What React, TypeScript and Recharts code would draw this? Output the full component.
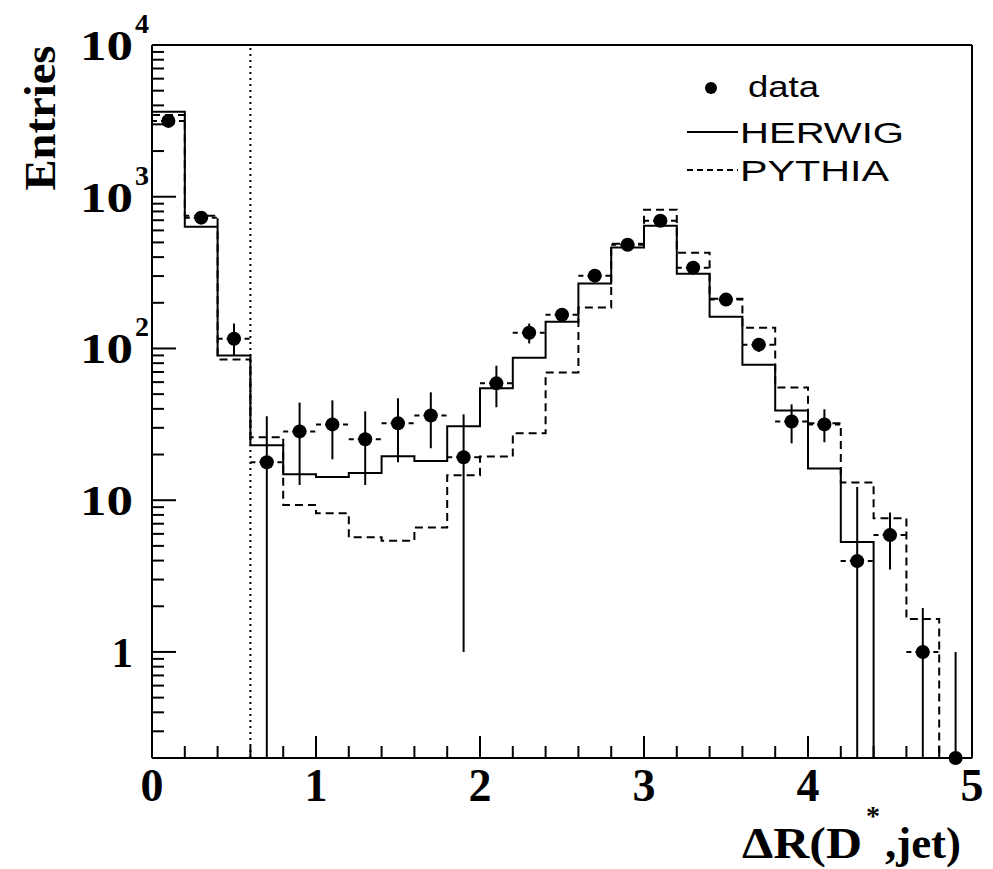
import React from "react";
import {
  ComposedChart,
  Line,
  Scatter,
  ErrorBar,
  XAxis,
  YAxis,
  ReferenceLine,
} from "recharts";

// histogram binning in ΔR(D*,jet)
const binEdges = [
  0, 0.2, 0.4, 0.6, 0.8, 1.0, 1.2, 1.4, 1.6, 1.8, 2.0, 2.2, 2.4, 2.6, 2.8,
  3.0, 3.2, 3.4, 3.6, 3.8, 4.0, 4.2, 4.4, 4.6, 4.8, 5.0,
];
const binCenters = [
  0.1, 0.3, 0.5, 0.7, 0.9, 1.1, 1.3, 1.5, 1.7, 1.9, 2.1, 2.3, 2.5, 2.7, 2.9,
  3.1, 3.3, 3.5, 3.7, 3.9, 4.1, 4.3, 4.5, 4.7, 4.9,
];

// data points with lower / upper ends of the error bars
const dataCounts = [
  3160, 728, 116, 17.8, 28.4, 31.6, 25.2, 32.1, 36.2, 19.2, 58.9, 127, 167,
  302, 483, 695, 341, 210, 106, 33, 31.6, 3.97, 5.89, 1.0, 0,
];
const dataLow = [
  3100, 700, 90, 0, 12.6, 18.6, 12.6, 17.8, 22, 1.0, 41, 108, 150, 285, 460,
  670, 320, 195, 95, 23.7, 24.1, 0, 3.5, 0, 0,
];
const dataHigh = [
  3220, 757, 146, 35.7, 44, 45.5, 38.5, 46.9, 51.4, 36.8, 77, 146, 185, 330,
  505, 720, 362, 225, 117, 42.8, 39.7, 12.2, 8.3, 1.95, 1.0,
];

// Monte Carlo predictions
const herwigCounts = [
  3625, 635, 90, 23, 14.8, 14.2, 15.1, 19.5, 18.1, 30.7, 54.6, 87, 150, 268,
  462, 645, 311, 162, 78, 39, 16.2, 5.3, 0, 0, 0,
];
const pythiaCounts = [
  3460, 750, 84.7, 26, 9.3, 8.2, 5.7, 5.4, 6.6, 14.6, 19.4, 27.6, 69.5, 186,
  490, 821, 428, 213, 137, 55.4, 32.1, 13.1, 7.6, 1.65, 0,
];

const xTicks = binEdges;
const yMajorTicks = [1, 10, 100, 1000, 10000];
const yMajorBase = ["1", "10", "10", "10", "10"];
const yMajorExp = ["", "", "2", "3", "4"];
const yMinorTicks = [0.1, 1, 10, 100, 1000].flatMap((d) =>
  [2, 3, 4, 5, 6, 7, 8, 9].map((m) => m * d)
);
const yTicks = [...yMinorTicks, ...yMajorTicks];

const Y_MIN = 0.2;
const Y_MAX = 10000;
const clampY = (v: number) => Math.max(v, Y_MIN);

const histPoints = (counts: number[]) =>
  binEdges.map((x, i) => ({
    x,
    y: clampY(counts[Math.min(i, counts.length - 1)]),
  }));

const herwigPts = histPoints(herwigCounts);
const pythiaPts = histPoints(pythiaCounts);

const dataPts = binCenters.map((x, i) => {
  const y = clampY(dataCounts[i]);
  return {
    x,
    y,
    ey: [y - clampY(dataLow[i]), dataHigh[i] - y],
    ex: [0.1, 0.1],
  };
});

const SERIF = "'Liberation Serif', 'Times New Roman', serif";
const SANS = "'Liberation Sans', Arial, sans-serif";

const YTick = (props: any) => {
  const { x, y, payload } = props;
  const idx = yMajorTicks.indexOf(payload.value);
  const major = idx >= 0;
  const wide = major && yMajorBase[idx].length > 1;
  return (
    <g>
      <line
        x1={x}
        x2={x + (major ? 24 : 12)}
        y1={y}
        y2={y}
        stroke="#000"
        strokeWidth={2}
      />
      {major && (
        <text
          x={x - 19}
          y={y + 15}
          textAnchor="end"
          fontFamily={SERIF}
          fontWeight="bold"
          fontSize={43}
          fill="#000"
          textLength={wide ? 53 : undefined}
          lengthAdjust="spacingAndGlyphs"
        >
          {yMajorBase[idx]}
        </text>
      )}
      {major && yMajorExp[idx] && (
        <text
          x={x - 17}
          y={y - 12}
          fontFamily={SERIF}
          fontWeight="bold"
          fontSize={28}
          fill="#000"
        >
          {yMajorExp[idx]}
        </text>
      )}
    </g>
  );
};

const XTick = (props: any) => {
  const { x, y, payload } = props;
  const v = payload.value;
  const major = Math.abs(v - Math.round(v)) < 1e-6;
  return (
    <g>
      <line
        x1={x}
        x2={x}
        y1={y}
        y2={y - (major ? 22 : 12)}
        stroke="#000"
        strokeWidth={2}
      />
      {major && (
        <text
          x={x}
          y={y + 43}
          textAnchor="middle"
          fontFamily={SERIF}
          fontWeight="bold"
          fontSize={46}
          fill="#000"
        >
          {Math.round(v)}
        </text>
      )}
    </g>
  );
};

const DataDot = (props: any) => {
  const { cx, cy } = props;
  return <circle cx={cx} cy={cy} r={7} fill="#000" />;
};

export default function App() {
  return (
    <div
      style={{
        position: "absolute",
        left: 0,
        top: 0,
        width: 993,
        height: 869,
        background: "#fff",
      }}
    >
      <ComposedChart
        width={993}
        height={869}
        margin={{ top: 45, right: 21, bottom: 110, left: 151 }}
      >
        <XAxis
          dataKey="x"
          type="number"
          domain={[0, 5]}
          ticks={xTicks}
          interval={0}
          height={1}
          tickSize={0}
          tickMargin={0}
          tickLine={false}
          tick={<XTick />}
          axisLine={{ stroke: "#000", strokeWidth: 2 }}
        />
        <YAxis
          dataKey="y"
          type="number"
          scale="log"
          domain={[Y_MIN, Y_MAX]}
          ticks={yTicks}
          interval={0}
          width={1}
          tickSize={0}
          tickMargin={0}
          tickLine={false}
          tick={<YTick />}
          axisLine={{ stroke: "#000", strokeWidth: 2 }}
        />
        <ReferenceLine
          x={0.6}
          stroke="#000"
          strokeWidth={2}
          strokeDasharray="2 4"
        />
        <Line
          data={pythiaPts}
          dataKey="y"
          type="stepAfter"
          stroke="#000"
          strokeWidth={2}
          strokeDasharray="8 5"
          dot={false}
          isAnimationActive={false}
        />
        <Line
          data={herwigPts}
          dataKey="y"
          type="stepAfter"
          stroke="#000"
          strokeWidth={2}
          dot={false}
          isAnimationActive={false}
        />
        <Scatter
          data={dataPts}
          dataKey="y"
          shape={<DataDot />}
          isAnimationActive={false}
        >
          <ErrorBar
            dataKey="ey"
            direction="y"
            width={0}
            stroke="#000"
            strokeWidth={2}
          />
          <ErrorBar
            dataKey="ex"
            direction="x"
            width={0}
            stroke="#000"
            strokeWidth={2}
            strokeDasharray="5 4"
          />
        </Scatter>
        <ReferenceLine y={Y_MAX} stroke="#000" strokeWidth={2} />
        <ReferenceLine x={5} stroke="#000" strokeWidth={2} />
      </ComposedChart>

      <svg
        width={993}
        height={869}
        style={{ position: "absolute", left: 0, top: 0, pointerEvents: "none" }}
      >
        <text
          transform="translate(55,118) rotate(-90)"
          textAnchor="middle"
          fontFamily={SERIF}
          fontWeight="bold"
          fontSize={45}
          textLength={145}
          lengthAdjust="spacingAndGlyphs"
        >
          Entries
        </text>

        <text
          x={742}
          y={858}
          fontFamily={SERIF}
          fontWeight="bold"
          fontSize={45}
          textLength={120}
          lengthAdjust="spacingAndGlyphs"
        >
          ΔR(D
        </text>
        <text
          x={866}
          y={825}
          fontFamily={SERIF}
          fontWeight="bold"
          fontSize={28}
        >
          *
        </text>
        <text
          x={885}
          y={858}
          fontFamily={SERIF}
          fontWeight="bold"
          fontSize={45}
          textLength={76}
          lengthAdjust="spacingAndGlyphs"
        >
          ,jet)
        </text>

        <circle cx={711} cy={88} r={6} fill="#000" />
        <text
          x={748}
          y={97}
          fontFamily={SANS}
          fontSize={29}
          textLength={71}
          lengthAdjust="spacingAndGlyphs"
        >
          data
        </text>
        <line x1={687} x2={738} y1={132} y2={132} stroke="#000" strokeWidth={2} />
        <text
          x={740}
          y={143}
          fontFamily={SANS}
          fontSize={29}
          textLength={164}
          lengthAdjust="spacingAndGlyphs"
        >
          HERWIG
        </text>
        <line
          x1={687}
          x2={738}
          y1={170}
          y2={170}
          stroke="#000"
          strokeWidth={2}
          strokeDasharray="6 4"
        />
        <text
          x={740}
          y={181}
          fontFamily={SANS}
          fontSize={29}
          textLength={149}
          lengthAdjust="spacingAndGlyphs"
        >
          PYTHIA
        </text>
      </svg>
    </div>
  );
}
